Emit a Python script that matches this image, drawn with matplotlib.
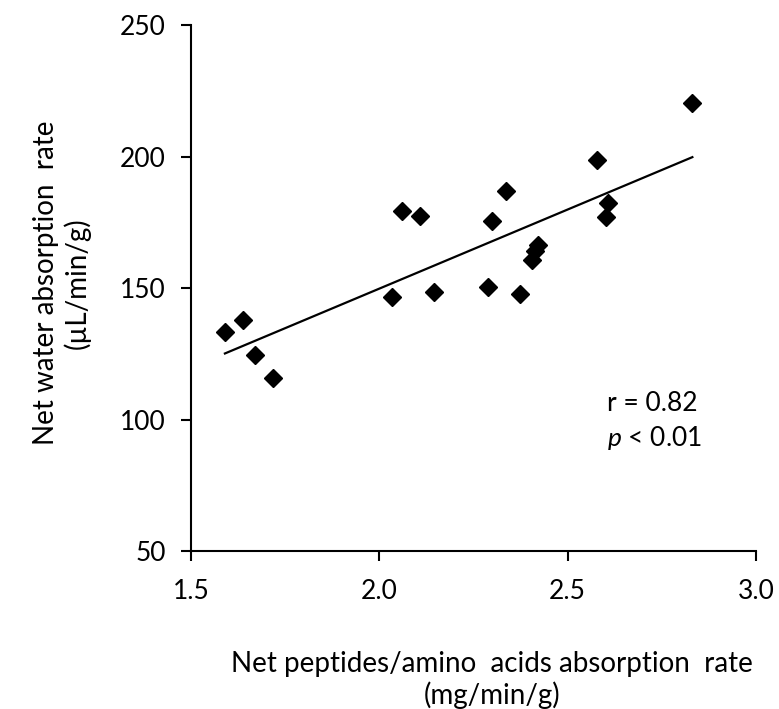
import numpy as np
import matplotlib
matplotlib.use('Agg')
import matplotlib.pyplot as plt

# net peptide / amino acid absorption rate (mg/min/g)
peptide_rate = [1.590, 1.639, 1.670, 1.718, 2.034, 2.059, 2.108, 2.145, 2.288, 2.300,
                2.336, 2.373, 2.404, 2.413, 2.422, 2.577, 2.608, 2.603, 2.831]
# net water absorption rate (uL/min/g)
water_rate = [133.4, 137.8, 124.5, 115.7, 146.7, 179.3, 177.5, 148.4, 150.3, 175.6,
              187.0, 147.6, 160.6, 164.2, 166.3, 198.7, 182.4, 177.0, 220.5]

x_ticks = [1.5, 2.0, 2.5, 3.0]
y_ticks = [50, 100, 150, 200, 250]

plt.rcParams['font.family'] = ['Lato', 'DejaVu Sans']
plt.rcParams['mathtext.fontset'] = 'custom'
plt.rcParams['mathtext.it'] = 'Lato:italic'
plt.rcParams['mathtext.rm'] = 'Lato'
fs = 20
tfs = 19

fig = plt.figure(figsize=(7.79, 7.09), dpi=100)
ax = fig.add_axes([0.2452, 0.2228, 0.7253, 0.7419])

x = np.asarray(peptide_rate)
y = np.asarray(water_rate)
ax.plot(x, y, linestyle='none', marker='D', markersize=9.5, color='black')

# linear trend line over the data range
slope, icpt = np.polyfit(x, y, 1)
xl = np.array([x.min(), x.max()])
ax.plot(xl, slope * xl + icpt, color='black', linewidth=1.6)

ax.set_xlim(1.5, 3.0)
ax.set_ylim(50, 250)
ax.set_xticks(x_ticks)
ax.set_xticklabels(['%.1f' % t for t in x_ticks])
ax.set_yticks(y_ticks)

for s in ['top', 'right']:
    ax.spines[s].set_visible(False)
for s in ['left', 'bottom']:
    ax.spines[s].set_linewidth(1.5)
ax.tick_params(axis='both', direction='out', length=7, width=1.5, labelsize=tfs)
ax.tick_params(axis='x', pad=13)
ax.tick_params(axis='y', pad=11)

ax.set_xlabel('Net peptides/amino  acids absorption  rate\n(mg/min/g)', fontsize=fs,
              linespacing=1.2)
ax.set_ylabel('Net water absorption  rate\n(\u00b5L/min/g)', fontsize=fs,
              linespacing=1.2)
ax.xaxis.set_label_coords(0.532, -0.19, transform=ax.transAxes)
ax.xaxis.label.set_va('top')
ax.yaxis.set_label_coords(-0.177, 0.51, transform=ax.transAxes)

ax.text(0.736, 0.281, 'r = 0.82', transform=ax.transAxes, fontsize=tfs, va='center', ha='left')
ax.text(0.736, 0.215, '$p$ < 0.01', transform=ax.transAxes, fontsize=tfs, va='center', ha='left')

fig.savefig('out.png', dpi=100)
